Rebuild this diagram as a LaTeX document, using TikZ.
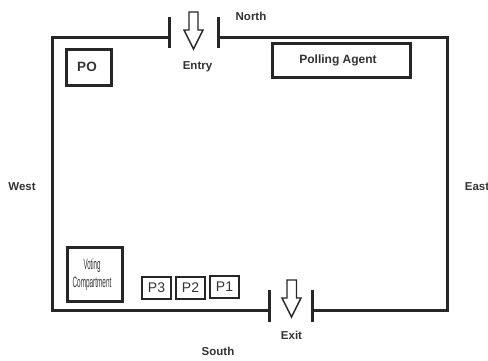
\documentclass[tikz,border=0pt]{standalone}
\usepackage{fontspec}
\setmainfont{Liberation Sans}
\definecolor{ink}{HTML}{262626}
\definecolor{txt}{HTML}{333333}
\tikzset{
  wall/.style={draw=ink,line width=3pt,line cap=butt,line join=miter},
  doorarrow/.style={draw=ink,line width=1.4pt,fill=white,line join=miter},
  room/.style={draw=ink,line width=3pt,fill=white},
  pbox/.style={draw=ink,line width=1.6pt,fill=white},
  lab/.style={font=\fontsize{11.5}{13}\selectfont\bfseries,text=txt,inner sep=0pt},
  plab/.style={font=\fontsize{14}{15}\selectfont,text=txt,inner sep=0pt},
  vlab/.style={font=\fontsize{10}{10}\selectfont,text=txt,inner sep=0pt}
}
\begin{document}
\begin{tikzpicture}[x=1pt,y=-1pt]
\useasboundingbox (0,0) rectangle (488,361);
% walls
\draw[wall] (169,38) -- (52,38) -- (52,310) -- (269,310);
\draw[wall] (218,38) -- (447,38) -- (447,310) -- (312,310);
\draw[wall] (169,17) -- (169,48);
\draw[wall] (218,17) -- (218,48);
\draw[wall] (269,290) -- (269,322);
\draw[wall] (312,290) -- (312,322);
% door arrows
\draw[doorarrow] (189,12) -- (198,12) -- (198,30) -- (203,30) -- (193.5,49) -- (184,30) -- (189,30) -- cycle;
\draw[doorarrow] (287,280) -- (296.5,280) -- (296.5,298) -- (301,298) -- (291.5,317) -- (282,298) -- (287,298) -- cycle;
% rooms
\node[room,minimum width=45pt,minimum height=36pt] (po) at (88.5,68) {};
\node[lab,font=\fontsize{13.5}{15}\selectfont\bfseries] (potext) at (87,67) {PO};
\node[room,minimum width=138pt,minimum height=34pt] (agent) at (341,61) {};
\node[lab,font=\fontsize{12}{14}\selectfont\bfseries] (agenttext) at (338,60) {Polling Agent};
\node[room,minimum width=55pt,minimum height=54pt] (vote) at (94.5,274) {};
\node[vlab] (vote1) at (92,266) {\scalebox{0.61}[1.5]{Voting}};
\node[vlab] (vote2) at (92,284) {\scalebox{0.64}[1.5]{Compartment}};
% people
\node[pbox,minimum width=29pt,minimum height=22pt] (p3) at (156.5,288) {};
\node[plab] at (p3) {P3};
\node[pbox,minimum width=29pt,minimum height=22pt] (p2) at (190.5,288) {};
\node[plab] at (p2) {P2};
\node[pbox,minimum width=29pt,minimum height=22pt] (p1) at (224.5,287) {};
\node[plab] at (p1) {P1};
% labels
\node[lab] (north) at (251,16) {North};
\node[lab] (south) at (218,351) {South};
\node[lab] (east) at (477,187) {East};
\node[lab] (west) at (22,187) {West};
\node[lab] (entry) at (197.5,67) {Entry};
\node[lab] (exit) at (291.5,335) {Exit};
\end{tikzpicture}
\end{document}
